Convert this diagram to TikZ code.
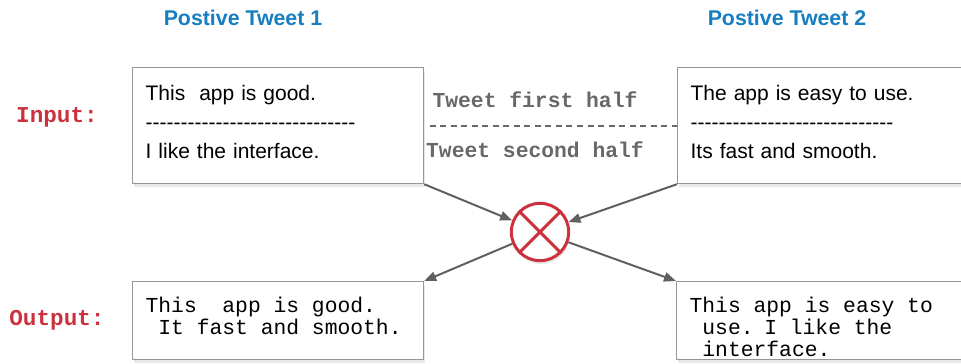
\documentclass[tikz,border=0pt]{standalone}
\usepackage{fontspec}
\setmainfont{Liberation Sans}
\setmonofont{Liberation Mono}
\usetikzlibrary{arrows.meta,shadows}
\definecolor{tweetblue}{RGB}{24,126,194}
\definecolor{mixred}{RGB}{204,50,62}
\definecolor{halfgray}{RGB}{104,104,104}
\definecolor{edgegray}{RGB}{96,96,96}
\definecolor{boxgray}{RGB}{150,150,150}
\newcommand{\cutline}[1]{\foreach \k in {1,...,#1}{-}}
\newcommand{\monospaces}{\spaceskip=.6em\relax}
\tikzstyle{every picture}+=[>={Triangle[length=9pt,width=7pt]}]
\tikzstyle{every picture}+=[x=0.75pt,y=-0.75pt]
\tikzstyle{every picture}+=[line width=1.5pt]
\tikzstyle{every picture}+=[every shadow/.style={opacity=.18}]
\tikzstyle{tweet}=[draw=boxgray, line width=0.9pt, fill=white, anchor=north west]
\tikzstyle{tweet}+=[inner xsep=9.75pt, inner ysep=0pt, text width=198.75pt, align=left]
\tikzstyle{tweet}+=[drop shadow={shadow xshift=1pt, shadow yshift=-2.5pt}]
\tikzstyle{intweet}=[tweet, text height=24.4pt, text depth=62.6pt]
\tikzstyle{intweet}+=[font=\fontsize{15.75pt}{21.75pt}\selectfont]
\tikzstyle{outtweet}=[tweet, text height=23.25pt, text depth=35.25pt]
\tikzstyle{outtweet}+=[font=\fontsize{16pt}{16.5pt}\selectfont\ttfamily]
\tikzstyle{title}=[text=tweetblue, font=\fontsize{16pt}{18pt}\selectfont\bfseries]
\tikzstyle{rowlabel}=[text=mixred, font=\fontsize{17pt}{19pt}\selectfont\ttfamily\bfseries]
\tikzstyle{half}=[text=halfgray, font=\fontsize{16pt}{18pt}\selectfont\ttfamily\bfseries]
\tikzstyle{mixer}=[circle, draw=mixred, line width=2.25pt, fill=white, minimum size=43pt, inner sep=0pt]
\tikzstyle{mixer}+=[drop shadow={shadow xshift=1pt, shadow yshift=-2.5pt}]

\begin{document}
\begin{tikzpicture}
\useasboundingbox (0,0) rectangle (961,364);

\node[title] (t1) at (243,18) {Postive Tweet 1};
\node[title] (t2) at (787,18) {Postive Tweet 2};
\node[rowlabel] (inlab) at (57,117) {Input:};
\node[rowlabel] (outlab) at (57,320) {Output:};

\node[intweet] (in1) at (132,67)
  {This\ \ app is good.\\ \cutline{30}\\ I like the interface.};
\node[intweet] (in2) at (677,67)
  {The app is easy to use.\\ \cutline{29}\\ Its fast and smooth.};

\node[half] (first) at (535,100) {Tweet first half};
\node[half] (second) at (535,150) {Tweet second half};
\draw[halfgray, line width=1.5pt, dash pattern=on 4.5pt off 3.4pt, shorten <=4pt]
  (in1.east) -- (in2.west);

\node[mixer] (mix) at (540,232) {};
\draw[mixred, line width=2.25pt] (mix.45) -- (mix.225) (mix.135) -- (mix.315);

\node[outtweet] (out1) at (132,281)
  {\monospaces This\ \ app is good.\\ \hspace*{.6em}It fast and smooth.};
\node[outtweet] (out2) at (676,281)
  {\monospaces This app is easy to\\ \hspace*{.6em}use. I like the\\ \hspace*{.6em}interface.};

\path[->, edgegray]
   (in1.south east) edge (mix)
   (in2.south west) edge (mix)
   (mix) edge (out1.north east)
   (mix) edge (out2.north west)
;
\end{tikzpicture}
\end{document}
